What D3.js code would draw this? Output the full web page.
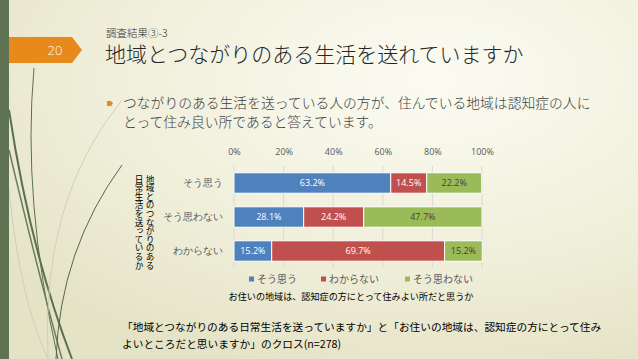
<!DOCTYPE html>
<html><head><meta charset="utf-8">
<script src="https://cdn.jsdelivr.net/npm/d3@7"></script>
<style>
html,body{margin:0;padding:0;overflow:hidden;}
svg{display:block;font-family:"Noto Sans CJK JP","Noto Sans",sans-serif;}
</style></head>
<body>
<script>
const categories = ["そう思う", "そう思わない", "わからない"];
const seriesNames = ["そう思う", "わからない", "そう思わない"];
const seriesYes = [63.2, 28.1, 15.2];
const seriesUnknown = [14.5, 24.2, 69.7];
const seriesNo = [22.2, 47.7, 15.2];
const tickValues = [0, 20, 40, 60, 80, 100];
const colors = ["#4f81bd", "#c0504d", "#9bbb59"];
const labelColors = ["#ffffff", "#ffffff", "#404040"];

const W = 638, H = 359;
const svg = d3.select("body").append("svg").attr("width", W).attr("height", H);
const defs = svg.append("defs");
const grad = defs.append("radialGradient").attr("id", "bg")
  .attr("cx", "0.68").attr("cy", "0.22").attr("r", "0.85");
grad.append("stop").attr("offset", "0").attr("stop-color", "#fbfbf3");
grad.append("stop").attr("offset", "0.55").attr("stop-color", "#f1f0dc");
grad.append("stop").attr("offset", "1").attr("stop-color", "#e5e3c6");
svg.append("rect").attr("width", W).attr("height", H).attr("fill", "url(#bg)");

// decorative curves
const deco = svg.append("g").attr("fill", "none");
deco.append("path").attr("d", "M34,68 Q22,200 58,359").attr("stroke", "#5c7050").attr("stroke-width", 1);
deco.append("path").attr("d", "M9,110 Q30,250 72,359").attr("stroke", "#5c7050").attr("stroke-width", 2);
deco.append("path").attr("d", "M9,150 Q40,280 62,359").attr("stroke", "#6a7d5e").attr("stroke-width", 1.5);
deco.append("path").attr("d", "M122,100 Q40,200 48,359").attr("stroke", "#cfcfbe").attr("stroke-width", 1);
deco.append("path").attr("d", "M122,165 Q60,250 56,359").attr("stroke", "#55684a").attr("stroke-width", 1);
deco.append("path").attr("d", "M9,190 Q20,300 48,359").attr("stroke", "#cfcfbc").attr("stroke-width", 1);

// left bar
svg.append("rect").attr("x", 0).attr("y", 0).attr("width", 9).attr("height", H).attr("fill", "#5f7352");
// orange tag
svg.append("path").attr("d", "M9,37 L72,37 L82,50 L72,63 L9,63 Z").attr("fill", "#e8891c");
svg.append("text").attr("x", 55).attr("y", 55).attr("text-anchor", "middle")
  .attr("font-size", 13).attr("font-weight", 300).attr("fill", "#ffffff").attr("font-family", "'Open Sans',sans-serif").text("20");

// titles
svg.append("text").attr("x", 106).attr("y", 36.5).attr("font-size", 10.5).attr("font-weight", 300).attr("fill", "#333").text("調査結果③-3");
svg.append("text").attr("x", 105).attr("y", 62).attr("font-size", 21).attr("font-weight", 300).attr("fill", "#262626").text("地域とつながりのある生活を送れていますか");

// bullet
svg.append("path").attr("d", "M107,101 L111,101 L113,103.5 L111,106 L107,106 Z").attr("fill", "#e8891c");
svg.append("text").attr("x", 123).attr("y", 108).attr("font-size", 13.8).attr("font-weight", 300).attr("fill", "#404040")
  .text("つながりのある生活を送っている人の方が、住んでいる地域は認知症の人に");
svg.append("text").attr("x", 123).attr("y", 127).attr("font-size", 13.8).attr("font-weight", 300).attr("fill", "#404040")
  .text("とって住み良い所であると答えています。");

// chart
const x = d3.scaleLinear().domain([0, 100]).range([234, 482]);
const y = d3.scaleBand().domain(categories).range([166, 268]).paddingInner(0.4).paddingOuter(0.2);

const xAxis = svg.append("g").attr("transform", "translate(0,158)")
  .call(d3.axisTop(x).tickValues(tickValues).tickFormat(d => d + "%").tickSize(0));
xAxis.select(".domain").remove();
xAxis.selectAll("text").attr("font-size", 9).attr("fill", "#595959")
  .attr("font-family", "'Open Sans','Noto Sans',sans-serif");

svg.append("g").selectAll("line").data(tickValues).join("line")
  .attr("x1", d => x(d)).attr("x2", d => x(d)).attr("y1", 166).attr("y2", 268)
  .attr("stroke", "#d9d9d9").attr("stroke-width", 1);

const yAxis = svg.append("g").attr("transform", "translate(223,0)")
  .call(d3.axisLeft(y).tickSize(0).tickPadding(0));
yAxis.select(".domain").remove();
yAxis.selectAll("text").attr("font-size", 10).attr("fill", "#595959");

const allSeries = [seriesYes, seriesUnknown, seriesNo];
const stacked = categories.map((c, i) => {
  let acc = 0;
  return allSeries.map((s, k) => {
    const d = {cat: c, k, v: s[i], x0: acc, x1: acc + s[i]};
    acc += s[i];
    return d;
  });
}).flat();

const segs = svg.append("g").selectAll("g").data(stacked).join("g");
segs.append("rect")
  .attr("x", d => x(d.x0)).attr("width", d => x(d.x1) - x(d.x0))
  .attr("y", d => y(d.cat)).attr("height", y.bandwidth())
  .attr("fill", d => colors[d.k]).attr("stroke", "#ffffff").attr("stroke-width", 1);
segs.append("text")
  .attr("x", d => (x(d.x0) + x(d.x1)) / 2).attr("y", d => y(d.cat) + y.bandwidth() / 2)
  .attr("dy", "0.35em").attr("text-anchor", "middle").attr("font-size", 9)
  .attr("font-family", "'Open Sans','Noto Sans',sans-serif")
  .attr("fill", d => labelColors[d.k]).text(d => d.v.toFixed(1) + "%");

// y title vertical
const yTitle = ["地域とのつながりのある", "日常生活を送っているか"];
svg.append("g").selectAll("text").data(yTitle).join("text")
  .attr("x", (d, i) => 150 - i * 11).attr("y", 175)
  .attr("font-size", 8.6).attr("fill", "#000")
  .style("writing-mode", "vertical-rl")
  .text(d => d);

// legend
const legendX = [249, 321, 405];
const leg = svg.append("g").selectAll("g").data(seriesNames).join("g")
  .attr("transform", (d, i) => `translate(${legendX[i]},279)`);
leg.append("rect").attr("x", 0).attr("y", -2.5).attr("width", 5).attr("height", 5).attr("fill", (d, i) => colors[i]);
leg.append("text").attr("x", 8).attr("dy", "0.35em").attr("font-size", 10).attr("fill", "#595959").text(d => d);

// x title
svg.append("text").attr("x", 351).attr("y", 300).attr("text-anchor", "middle")
  .attr("font-size", 9.1).attr("fill", "#000").text("お住いの地域は、認知症の方にとって住みよい所だと思うか");

// footer
svg.append("text").attr("x", 122).attr("y", 331).attr("font-size", 10.7).attr("fill", "#000")
  .text("「地域とつながりのある日常生活を送っていますか」と「お住いの地域は、認知症の方にとって住み");
svg.append("text").attr("x", 122).attr("y", 348).attr("font-size", 10.7).attr("fill", "#000")
  .text("よいところだと思いますか」のクロス(n=278)");
</script>
</body></html>
